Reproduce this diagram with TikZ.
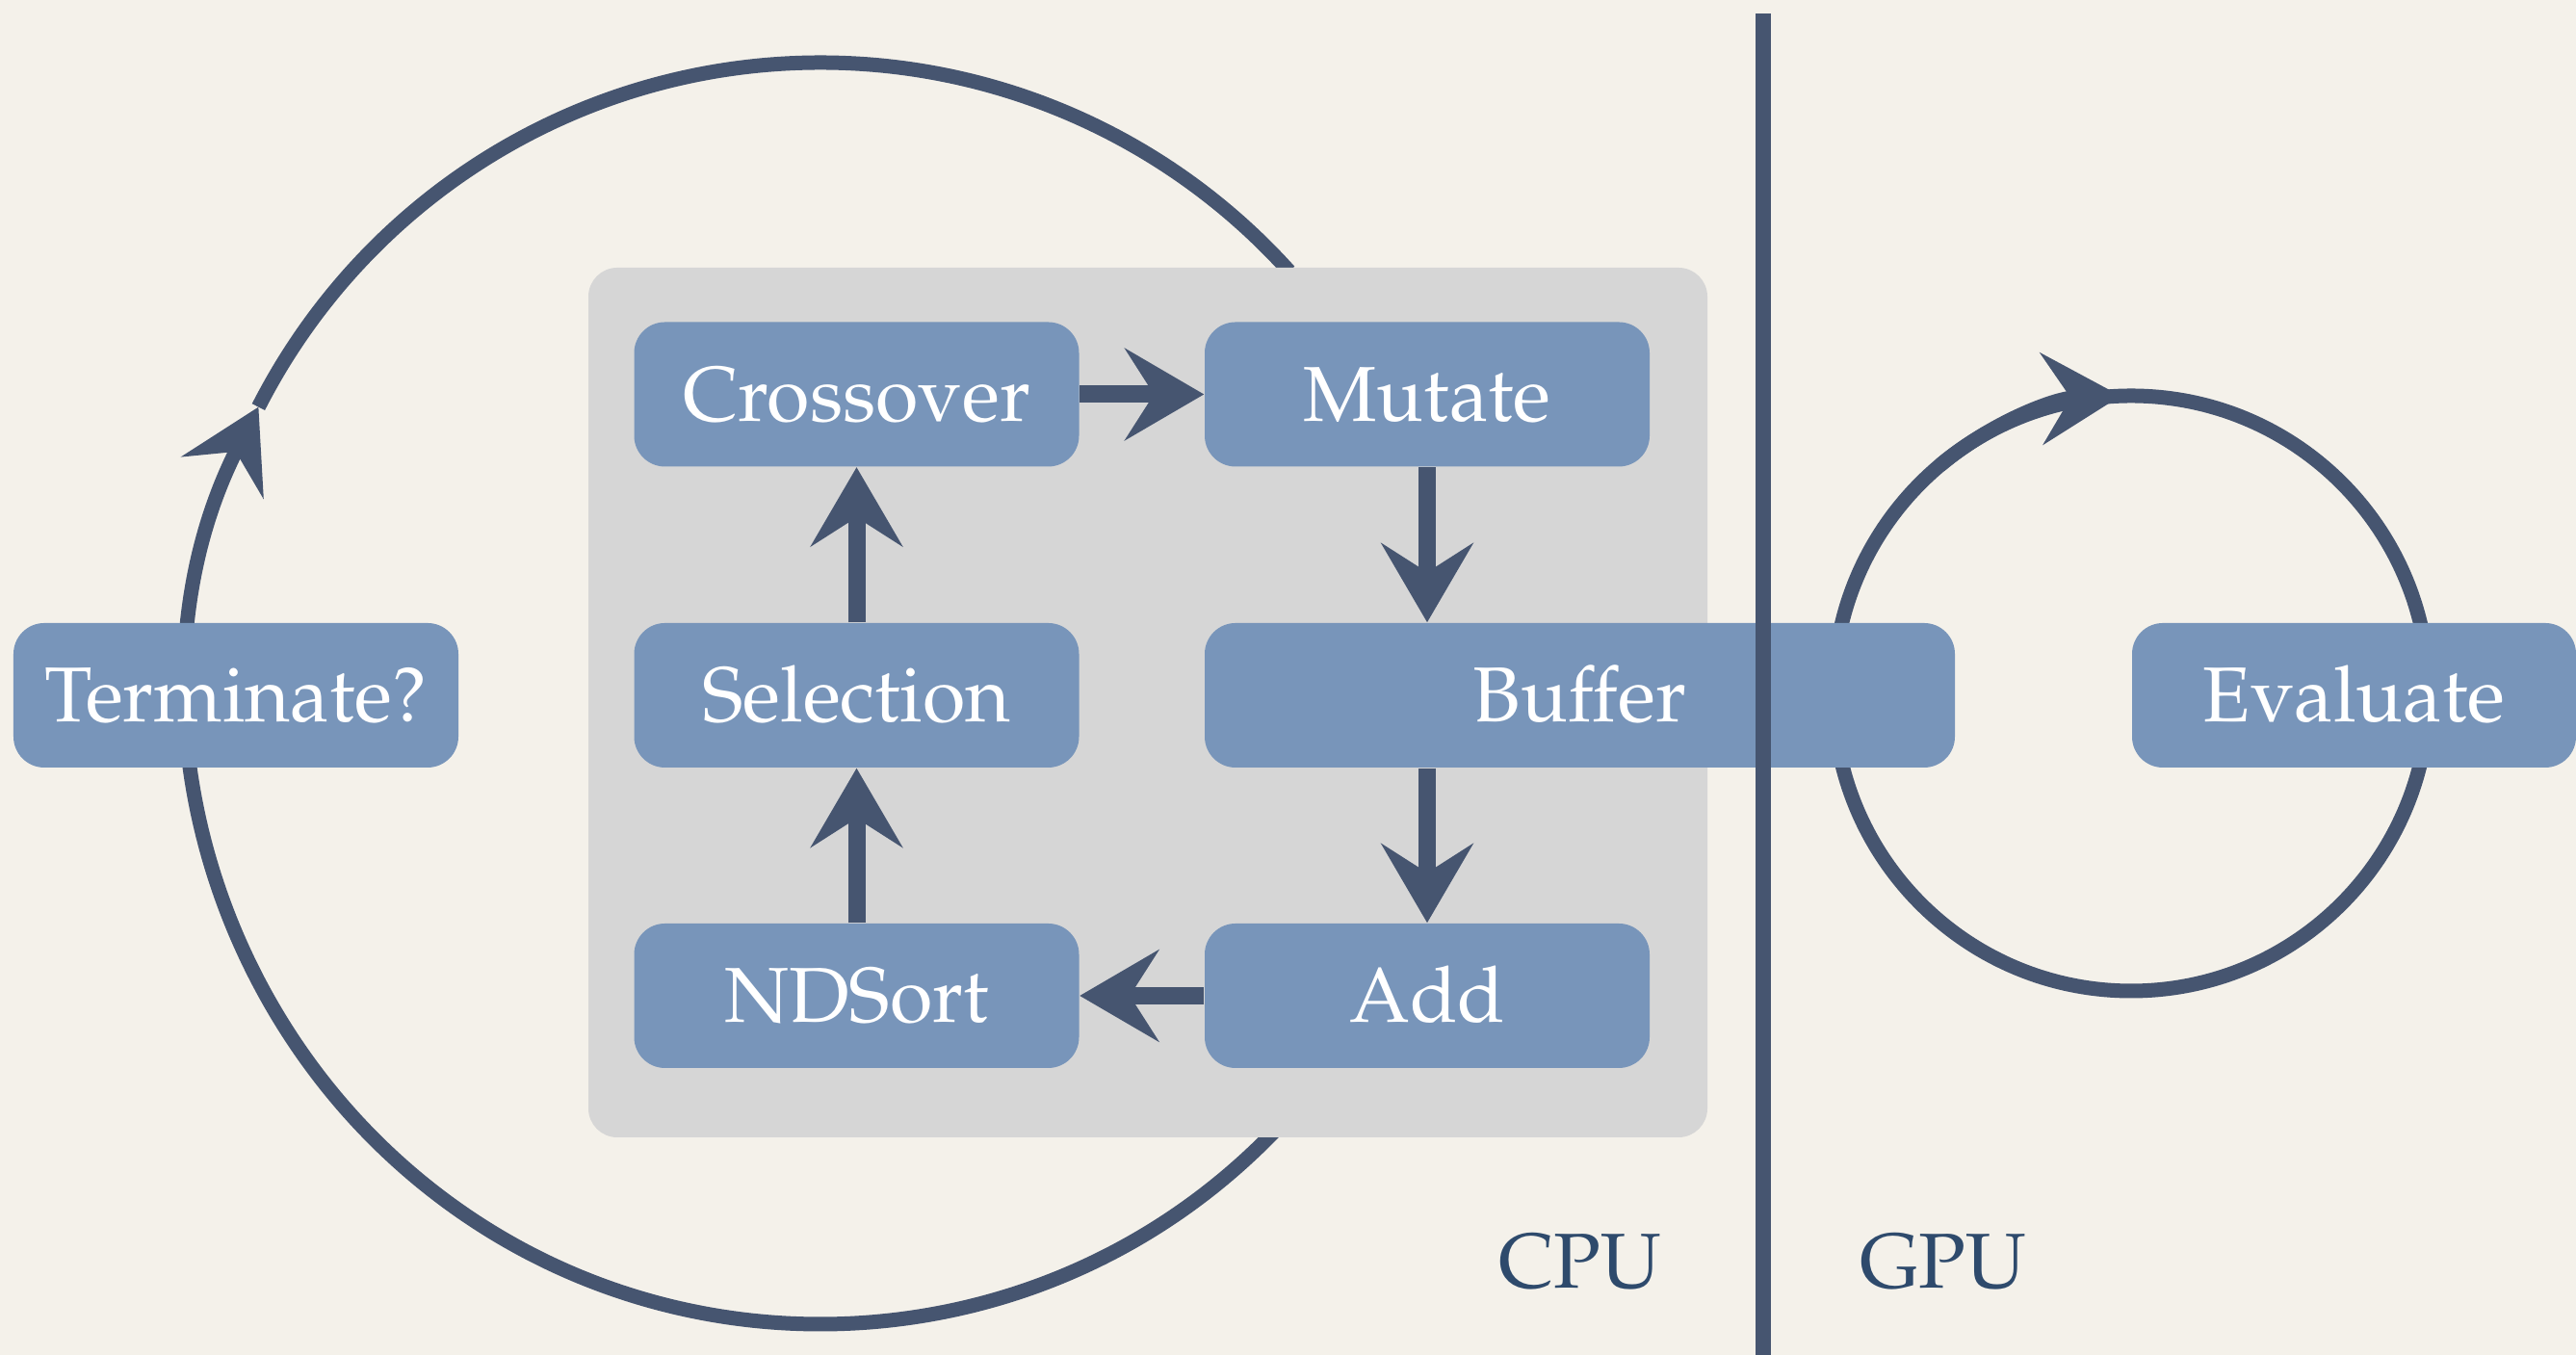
\documentclass[tikz,border=0pt]{standalone}
\usepackage[T1]{fontenc}
\usepackage{mathpazo}
\usetikzlibrary{arrows.meta}
\definecolor{paper}{HTML}{F4F1EA}
\definecolor{panelgray}{HTML}{D6D6D6}
\definecolor{boxblue}{HTML}{7895BA}
\definecolor{ink}{HTML}{465570}
\definecolor{labelblue}{HTML}{2E4A6C}
\begin{document}
\begin{tikzpicture}[
  stage/.style={fill=boxblue, rounded corners=0.32cm, minimum width=4.62cm,
    minimum height=1.5cm, inner sep=0pt, text=white,
    font=\fontsize{23}{28}\selectfont, text height=0.56cm, text depth=0cm},
  bigtip/.style={-{Stealth[length=0.82cm,width=0.95cm,inset=0.3cm]}},
  flow/.style={draw=ink, line width=0.18cm, bigtip},
  loopline/.style={draw=ink, line width=0.15cm},
  side/.style={text=labelblue, font=\fontsize{23}{28}\selectfont}
]
% page and background
\useasboundingbox (0,0) rectangle (26.75,14.07);
\fill[paper] (0,0) rectangle (26.75,14.07);

% outer generation loop (runs behind the CPU panel)
\coordinate (bigc) at (8.52,6.87);
\draw[loopline, bigtip] (bigc) ++(-43:6.55) arc[start angle=-43, end angle=-207, radius=6.55];
\draw[loopline] (bigc) ++(-207:6.55) arc[start angle=-207, end angle=-318, radius=6.55];

% CPU panel
\node[fill=panelgray, rounded corners=0.3cm, minimum width=11.62cm,
  minimum height=9.03cm, inner sep=0pt] (panel) at (11.92,6.775) {};

% stages on the CPU
\node[stage] (cross) at (8.895,9.975) {Crossover};
\node[stage] (mutate) at (14.82,9.975) {Mutate};
\node[stage] (select) at (8.895,6.85) {Selection};
\node[stage] (ndsort) at (8.895,3.73) {NDSort};
\node[stage] (add) at (14.82,3.73) {Add};

% evaluation loop on the GPU
\coordinate (smallc) at (22.13,6.87);
\draw[loopline] (smallc) circle[radius=3.09];
\draw[loopline, bigtip] (smallc) ++(130:3.09) arc[start angle=130, end angle=92, radius=3.09];

\node[stage, minimum width=7.79cm] (buffer) at (16.405,6.85) {Buffer};
\node[stage] (terminate) at (2.45,6.85) {Terminate?};
\node[stage, minimum width=4.61cm] (evaluate) at (24.445,6.85) {Evaluate};

% flow between the stages
\draw[flow] (cross.east) -- (mutate.west);
\draw[flow] (mutate.south) -- (mutate.south |- buffer.north);
\draw[flow] (add.north |- buffer.south) -- (add.north);
\draw[flow] (add.west) -- (ndsort.east);
\draw[flow] (ndsort.north) -- (select.south);
\draw[flow] (select.north) -- (cross.south);

% CPU / GPU divider
\coordinate (divtop) at (18.31,13.93);
\coordinate (divbot) at (18.31,0);
\draw[ink, line width=0.16cm] (divtop) -- (divbot);

\node[side] (cpu) at (16.41,0.97) {CPU};
\node[side] (gpu) at (20.18,0.97) {GPU};
\end{tikzpicture}
\end{document}
